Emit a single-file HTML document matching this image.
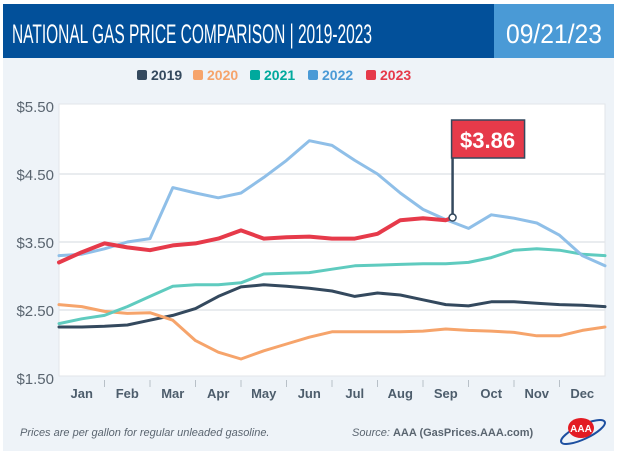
<!DOCTYPE html>
<html><head><meta charset="utf-8"><style>
body{margin:0;width:618px;height:451px;background:#fff;overflow:hidden;font-family:"Liberation Sans",sans-serif}
</style></head><body>
<svg width="618" height="451">
<rect x="3" y="58" width="611" height="393" fill="#eef3f8"/>
<rect x="3" y="4" width="491" height="54" fill="#02509a"/>
<rect x="494" y="4" width="120" height="54" fill="#4a9ad6"/>
<text x="12" y="43" fill="#fff" font-size="27" font-family="Liberation Sans Narrow, Liberation Sans, sans-serif" textLength="360" lengthAdjust="spacingAndGlyphs">NATIONAL GAS PRICE COMPARISON | 2019-2023</text>
<text x="554" y="43" fill="#fff" font-size="27" text-anchor="middle" textLength="96" lengthAdjust="spacingAndGlyphs">09/21/23</text>
<rect x="59" y="104" width="546" height="272" fill="#fff" stroke="#e2e6ea"/>
<g id="grid"></g><g id="series"></g><g id="axes"></g><g id="legend"></g>
<text x="20" y="436" font-size="11" font-style="italic" fill="#5a6570">Prices are per gallon for regular unleaded gasoline.</text>
<text x="352" y="436" font-size="11" fill="#5a6570"><tspan font-style="italic">Source: </tspan><tspan font-weight="bold">AAA (GasPrices.AAA.com)</tspan></text>
<g>
<ellipse cx="583" cy="432" rx="24" ry="7" fill="none" stroke="#1d4fa0" stroke-width="2" transform="rotate(-25 583 432)"/>
<ellipse cx="581" cy="428" rx="13" ry="10" fill="#e31b23"/>
<text x="581" y="432" font-size="10" font-weight="bold" fill="#fff" text-anchor="middle">AAA</text>
</g>
</svg>
<script>
const months=["Jan","Feb","Mar","Apr","May","Jun","Jul","Aug","Sep","Oct","Nov","Dec"];
const yTicks=[1.5,2.5,3.5,4.5,5.5];
const years=["2019","2020","2021","2022","2023"];
const colors=["#34495e","#f6a46b","#5fcbbf","#8fbfe8","#e63a4a"];
const legendColors=["#34495e","#f6a46b","#00a99d","#4a9ad6","#e63a4a"];
// values at half-month steps (0,0.5,...,12)
const s2019=[2.25,2.25,2.26,2.28,2.35,2.42,2.52,2.70,2.84,2.87,2.85,2.82,2.78,2.70,2.75,2.72,2.65,2.58,2.56,2.62,2.62,2.60,2.58,2.57,2.55];
const s2020=[2.58,2.55,2.48,2.45,2.46,2.35,2.05,1.88,1.78,1.90,2.00,2.10,2.18,2.18,2.18,2.18,2.19,2.22,2.20,2.19,2.17,2.12,2.12,2.20,2.25];
const s2021=[2.30,2.37,2.42,2.55,2.70,2.85,2.87,2.87,2.90,3.03,3.04,3.05,3.10,3.15,3.16,3.17,3.18,3.18,3.20,3.27,3.38,3.40,3.38,3.32,3.30];
const s2022=[3.30,3.32,3.40,3.50,3.55,4.30,4.22,4.15,4.22,4.45,4.70,4.99,4.92,4.70,4.50,4.22,3.98,3.83,3.70,3.90,3.85,3.78,3.60,3.30,3.15];
const s2023=[3.20,3.35,3.48,3.42,3.38,3.45,3.48,3.55,3.67,3.55,3.57,3.58,3.55,3.55,3.62,3.82,3.85,3.82,3.86];
const series=[s2019,s2020,s2021,s2022,s2023];
const NS="http://www.w3.org/2000/svg";
const X0=59,W=546,Y0=378,PX=68;
const xs=m=>X0+m*W/12;
const ys=v=>Y0-(v-1.5)*PX;
function mk(t,a,p){const e=document.createElementNS(NS,t);for(const k in a)e.setAttribute(k,a[k]);p.appendChild(e);return e;}
const grid=document.getElementById('grid'),axes=document.getElementById('axes'),ser=document.getElementById('series'),leg=document.getElementById('legend');
yTicks.forEach(v=>{
 if(v>1.5&&v<5.5){const l=mk('line',{x1:X0,x2:X0+W,y1:ys(v),y2:ys(v),stroke:'#e2e6ea','stroke-width':1.5},grid);
 
 }
 const t=mk('text',{x:54,y:ys(v)+6,'text-anchor':'end','font-size':15,fill:'#5a6570'},axes);t.textContent='$'+v.toFixed(2);
 
 
});
months.forEach((m,i)=>{
 const t=mk('text',{x:xs(i+0.5),y:398,'text-anchor':'middle','font-size':13,'font-weight':'bold',fill:'#4d5d6c'},axes);t.textContent=m;
 
 
 if(i>0){const l=mk('line',{x1:xs(i),x2:xs(i),y1:380,y2:387,stroke:'#b8c0c8','stroke-width':1},axes);
 
 }
});
series.forEach((s,k)=>{
 const n=s.length;
 const pts=s.map((v,i)=>{const m=(k==4&&i==n-1)?8.65:i*0.5;return xs(m).toFixed(1)+','+ys(v).toFixed(1);}).join(' ');
 const p=mk('polyline',{points:pts,fill:'none',stroke:colors[k],'stroke-width':k==4?4:3,'stroke-linejoin':'round','stroke-linecap':'round'},ser);
 
 
});
// annotation
const last=s2023[s2023.length-1],ax=xs(8.65),ay=ys(last);
const stem=mk('line',{x1:ax,x2:ax,y1:ay,y2:121,stroke:'#34495e','stroke-width':2.5},ser);


const fb=mk('rect',{x:ax-1,y:120,width:73,height:38,fill:'#e63a4a',stroke:'#34495e','stroke-width':1.5},ser);


const ft=mk('text',{x:ax+35,y:148,'text-anchor':'middle','font-size':22,'font-weight':'bold',fill:'#fff'},ser);ft.textContent='$'+last.toFixed(2);


const dot=mk('circle',{cx:ax,cy:ay,r:3.5,fill:'#fff',stroke:'#34495e','stroke-width':1.5},ser);


// legend
const lx=[137,193,250,308,366];
years.forEach((y,i)=>{
 const r=mk('rect',{x:lx[i],y:70,width:10,height:10,rx:2,fill:legendColors[i]},leg);
 
 
 const t=mk('text',{x:lx[i]+14,y:80,'font-size':14,'font-weight':'bold',fill:legendColors[i]},leg);t.textContent=y;
 
 
});
</script>
</body></html>
